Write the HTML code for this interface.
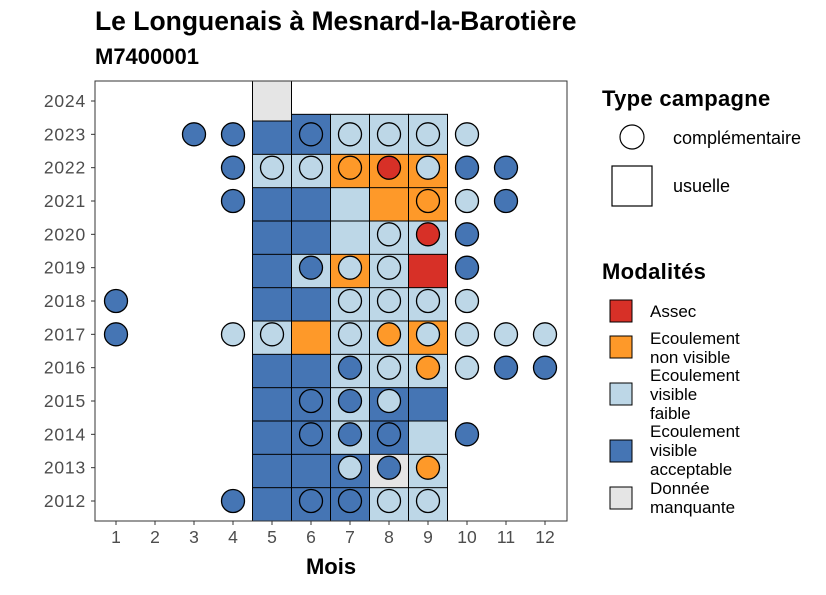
<!DOCTYPE html>
<html><head><meta charset="utf-8"><style>
body{margin:0;background:#fff;font-family:"Liberation Sans",sans-serif;}
</style></head><body>
<svg id="c" width="826" height="590" xmlns="http://www.w3.org/2000/svg" font-family="Liberation Sans, sans-serif">
<text x="95" y="30" font-size="26.5" font-weight="bold" fill="#000">Le Longuenais à Mesnard-la-Barotière</text>
<text x="95" y="64" font-size="22" font-weight="bold" fill="#000">M7400001</text>
<g id="tiles"></g><g id="circles"></g>
<rect x="95" y="81" width="472" height="440" fill="none" stroke="#333" stroke-width="1"/>
<g id="axes"></g>
<text x="331" y="574" font-size="22" font-weight="bold" text-anchor="middle">Mois</text>
<g>
<text x="602" y="106" font-size="22" font-weight="bold" letter-spacing="0.3">Type campagne</text>
<circle cx="632" cy="137" r="12" fill="#fff" stroke="#000" stroke-width="1.2"/>
<text x="673" y="144" font-size="18">complémentaire</text>
<rect x="612" y="166" width="40" height="40" fill="#fff" stroke="#000" stroke-width="1.2"/>
<text x="673" y="192" font-size="18">usuelle</text>
</g>
<g>
<text x="602" y="279" font-size="22" font-weight="bold" letter-spacing="0.3">Modalités</text>
<rect x="610" y="300" width="22" height="22" fill="#d73027" stroke="#000"/>
<text x="650" y="317" font-size="17">Assec</text>
<rect x="610" y="336" width="22" height="22" fill="#fe9929" stroke="#000"/>
<text x="650" y="344" font-size="17">Ecoulement</text><text x="650" y="363" font-size="17">non visible</text>
<rect x="610" y="383" width="22" height="22" fill="#bdd7e7" stroke="#000"/>
<text x="650" y="381" font-size="17">Ecoulement</text><text x="650" y="400" font-size="17">visible</text><text x="650" y="419" font-size="17">faible</text>
<rect x="610" y="440" width="22" height="22" fill="#4575b4" stroke="#000"/>
<text x="650" y="437" font-size="17">Ecoulement</text><text x="650" y="456" font-size="17">visible</text><text x="650" y="475" font-size="17">acceptable</text>
<rect x="610" y="487" width="22" height="22" fill="#e5e5e5" stroke="#000"/>
<text x="650" y="494" font-size="17">Donnée</text><text x="650" y="513" font-size="17">manquante</text>
</g>
</svg>
<script>
const months=[1,2,3,4,5,6,7,8,9,10,11,12];
const years=[2012,2013,2014,2015,2016,2017,2018,2019,2020,2021,2022,2023,2024];
const colors={A:"#d73027",N:"#fe9929",F:"#bdd7e7",V:"#4575b4",M:"#e5e5e5"};
const tileYears=[2012,2013,2014,2015,2016,2017,2018,2019,2020,2021,2022,2023,2024];
const tileCodes=["VVVFF","VVVMF","VVFVF","VVFVV","VVFFF","FNFFN","VVFFF","VFNFA","VVFFF","VVFNN","FFNNN","VVFFF","M----"];
const tileStartMonth=5;
const circleYears=[2023,2022,2021,2020,2019,2018,2017,2016,2015,2014,2013,2012];
const circleData=["3V 4V 6V 7F 8F 9F 10F","4V 5F 6F 7N 8A 9F 10V 11V","4V 9N 10F 11V","8F 9A 10V","6V 7F 8F 10V","1V 7F 8F 9F 10F","1V 4F 5F 7F 8N 9F 10F 11F 12F","7V 8F 9N 10F 11V 12V","6V 7V 8F","6V 7V 8V 10V","7F 8V 9N","4V 6V 7V 8F 9F"];
const NS="http://www.w3.org/2000/svg";
const X=m=>116+(m-1)*39, Y=y=>501-(y-2012)*(400/12);
const bw=39, bh=40;
const tg=document.getElementById('tiles'),cg=document.getElementById('circles'),ag=document.getElementById('axes');
tileYears.forEach((yr,i)=>{[...tileCodes[i]].forEach((c,j)=>{if(c==='-')return;const r=document.createElementNS(NS,'rect');
r.setAttribute('x',X(tileStartMonth+j)-bw/2);r.setAttribute('y',Y(yr)-bh/2);r.setAttribute('width',bw);r.setAttribute('height',bh);
r.setAttribute('fill',colors[c]);r.setAttribute('stroke','#000');r.setAttribute('stroke-width','1');


tg.appendChild(r);});});
circleYears.forEach((yr,i)=>{circleData[i].split(' ').forEach(s=>{const m=parseInt(s),c=s.slice(-1);const e=document.createElementNS(NS,'circle');
e.setAttribute('cx',X(m));e.setAttribute('cy',Y(yr));e.setAttribute('r',11.5);e.setAttribute('fill',colors[c]);e.setAttribute('stroke','#000');e.setAttribute('stroke-width','1.3');


cg.appendChild(e);});});
months.forEach(m=>{const l=document.createElementNS(NS,'line');l.setAttribute('x1',X(m));l.setAttribute('x2',X(m));l.setAttribute('y1',521);l.setAttribute('y2',525);l.setAttribute('stroke','#333');ag.appendChild(l);
const t=document.createElementNS(NS,'text');t.setAttribute('x',X(m));t.setAttribute('y',543);t.setAttribute('font-size','17.5');t.setAttribute('fill','#4d4d4d');t.setAttribute('text-anchor','middle');t.textContent=m;


ag.appendChild(t);});
years.forEach(y=>{const l=document.createElementNS(NS,'line');l.setAttribute('x1',91);l.setAttribute('x2',95);l.setAttribute('y1',Y(y));l.setAttribute('y2',Y(y));l.setAttribute('stroke','#333');ag.appendChild(l);
const t=document.createElementNS(NS,'text');t.setAttribute('x',86);t.setAttribute('y',Y(y)+6);t.setAttribute('font-size','17.5');t.setAttribute('letter-spacing','0.8');t.setAttribute('fill','#4d4d4d');t.setAttribute('text-anchor','end');t.textContent=y;


ag.appendChild(t);});
</script>
</body></html>
